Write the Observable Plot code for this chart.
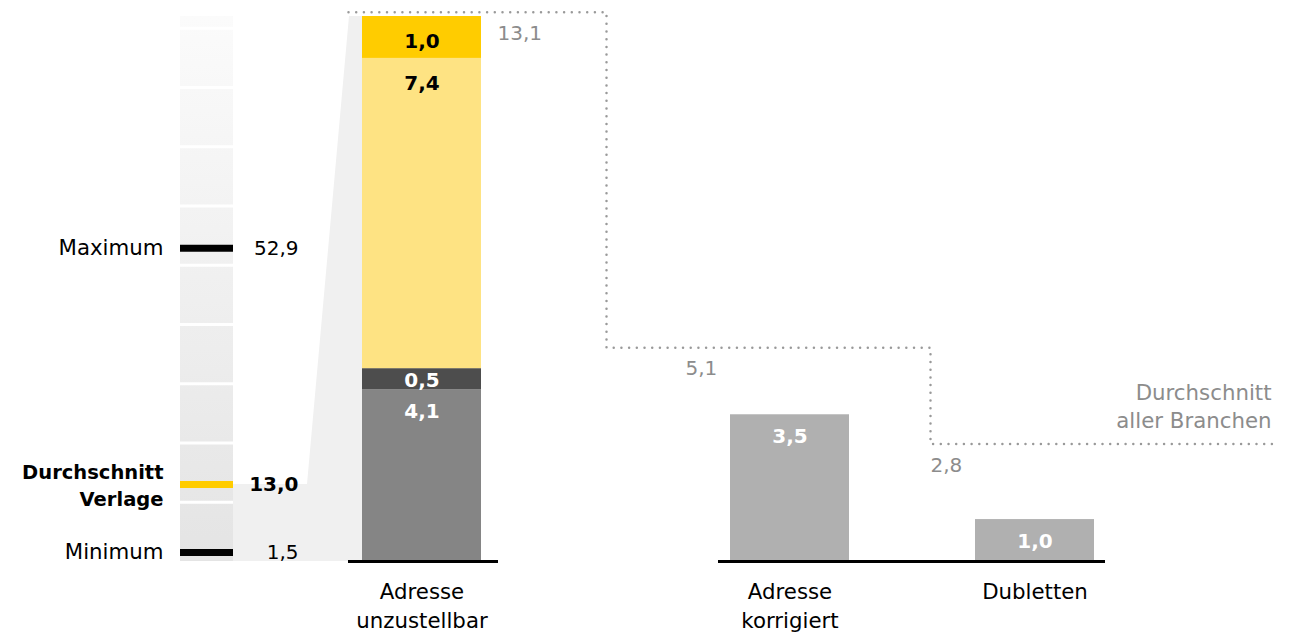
<!DOCTYPE html>
<html>
<head>
<meta charset="utf-8">
<script src="https://cdn.jsdelivr.net/npm/d3@7"></script>
<script src="https://cdn.jsdelivr.net/npm/@observablehq/plot@0.6"></script>
<style>
html, body { margin: 0; padding: 0; background: #fff; }
#chart { position: relative; width: 1301px; height: 633px; }
#chart svg { position: absolute; left: 0; top: 0; }
</style>
</head>
<body>
<div id="chart"></div>
<script>
// ---------- DATA ----------
const leftStatLabels = ["Maximum", "Durchschnitt\nVerlage", "Minimum"];
const leftStatValues = [52.9, 13.0, 1.5];
const leftGridValues = [10, 20, 30, 40, 50, 60, 70, 80, 90];
const leftScaleMax = 92;

const categories = ["Adresse unzustellbar", "Adresse korrigiert", "Dubletten"];
const stackSegments = ["Teil 1", "Teil 2", "Teil 3", "Teil 4"]; // bottom → top
const stackValues = [4.1, 0.5, 7.4, 1.0];
const singleCategories = ["Adresse korrigiert", "Dubletten"];
const singleValues = [3.5, 1.0];
const allBranchAvg = [13.1, 5.1, 2.8];
const allBranchLabel = "Durchschnitt\naller Branchen";

// ---------- LAYOUT / STYLE ----------
const W = 1301, H = 633;
const BASE_Y = 561, TOP_Y = 16;
const FONT = "'DejaVu Sans', sans-serif";
const barLeft = {"Adresse unzustellbar": 362, "Adresse korrigiert": 730, "Dubletten": 975};
const barWidth = 119;
const axisSpans = [[348, 498], [718, 1105]];
const stepX = [348, 606, 930, 1275];
const avgLabelX = [497, 685, 930];
const leftBar = [180, 233];
const connectorX = [233, 307, 349, 362];
const segColors = ["#858585", "#4d4d4d", "#fee383", "#ffcc00"];
const darkTextSegs = new Set(["Teil 3", "Teil 4"]);
const grey = "#8c8c8c";
const WORD = 21.3, NUM = 20, BOLDWORD = 19.5;

const fmt = v => v.toFixed(1).replace(".", ",");

// ---------- LEFT PANEL ----------
const statData = leftStatValues.map((v, i) => ({label: leftStatLabels[i], value: v, avg: i === 1}));
const connectorPts = [
  {x: connectorX[0], y: leftStatValues[1]},
  {x: connectorX[1], y: leftStatValues[1]},
  {x: connectorX[2], y: leftScaleMax},
  {x: connectorX[3], y: leftScaleMax}
];
const gradientDefs = () => {
  const defs = d3.create("svg:defs");
  const g = defs.append("linearGradient").attr("id", "leftGrad")
    .attr("x1", 0).attr("y1", 0).attr("x2", 0).attr("y2", 1);
  g.append("stop").attr("offset", 0).attr("stop-color", "#fbfbfb");
  g.append("stop").attr("offset", 1).attr("stop-color", "#e4e4e4");
  return defs.node();
};

const leftPlot = Plot.plot({
  width: W, height: H, margin: 0,
  x: {domain: [0, W], axis: null},
  y: {domain: [0, leftScaleMax], range: [BASE_Y, TOP_Y], axis: null},
  style: {fontFamily: FONT, fontSize: "20px", background: "#fff", color: "#000"},
  marks: [
    gradientDefs,
    Plot.areaY(connectorPts, {x: "x", y1: 0, y2: "y", fill: "#f0f0f0"}),
    Plot.rectY([0], {x1: leftBar[0], x2: leftBar[1], y1: 0, y2: leftScaleMax, fill: "url(#leftGrad)"}),
    Plot.ruleY(leftGridValues, {x1: leftBar[0], x2: leftBar[1], stroke: "#fff", strokeWidth: 3}),
    Plot.ruleY(statData.filter(d => !d.avg), {y: "value", x1: leftBar[0], x2: leftBar[1], stroke: "#000", strokeWidth: 7}),
    Plot.ruleY(statData.filter(d => d.avg), {y: "value", x1: leftBar[0], x2: leftBar[1], stroke: "#ffcc00", strokeWidth: 7}),
    Plot.text(statData.filter(d => !d.avg), {x: 163, y: "value", text: "label", textAnchor: "end", fill: "#000", fontSize: WORD}),
    Plot.text(statData.filter(d => d.avg), {x: 163, y: "value", text: "label", textAnchor: "end", fill: "#000", fontSize: BOLDWORD, fontWeight: "bold", lineHeight: 1.4, dy: -1}),
    Plot.text(statData.filter(d => !d.avg), {x: 298, y: "value", text: d => fmt(d.value), textAnchor: "end", fill: "#000", fontSize: NUM}),
    Plot.text(statData.filter(d => d.avg), {x: 298, y: "value", text: d => fmt(d.value), textAnchor: "end", fill: "#000", fontSize: NUM, fontWeight: "bold"})
  ]
});

// ---------- MAIN PANEL ----------
const stackData = stackValues.map((v, i) => ({cat: categories[0], seg: stackSegments[i], value: v}));
const singleData = singleValues.map((v, i) => ({cat: singleCategories[i], value: v}));
const avgData = allBranchAvg.map((v, i) => ({x: stepX[i], value: v}));
const avgLine = [...avgData, {x: stepX[3], value: allBranchAvg[allBranchAvg.length - 1]}];

const bx1 = d => barLeft[d.cat];
const bx2 = d => barLeft[d.cat] + barWidth;
const bxc = d => barLeft[d.cat] + barWidth / 2;

const mainPlot = Plot.plot({
  width: W, height: H, margin: 0,
  x: {domain: [0, W], axis: null},
  y: {domain: [0, 13], range: [BASE_Y, TOP_Y], axis: null},
  color: {domain: stackSegments, range: segColors},
  style: {fontFamily: FONT, fontSize: "20px", background: "transparent", color: "#000"},
  marks: [
    Plot.rectY(stackData, Plot.stackY({x1: bx1, x2: bx2, y: "value", fill: "seg", order: null})),
    Plot.rectY(singleData, {x1: bx1, x2: bx2, y: "value", fill: "#b0b0b0"}),
    Plot.ruleY(axisSpans, {y: 0, x1: d => d[0], x2: d => d[1], stroke: "#000", strokeWidth: 3}),
    // stacked labels
    Plot.text(stackData, Plot.stackY2({x: bxc, y: "value", order: null,
      text: d => darkTextSegs.has(d.seg) ? fmt(d.value) : "", dy: 25, fill: "#000", fontWeight: "bold", fontSize: NUM})),
    Plot.text(stackData, Plot.stackY2({x: bxc, y: "value", order: null,
      text: d => (!darkTextSegs.has(d.seg) && d.value >= 1) ? fmt(d.value) : "", dy: 22, fill: "#fff", fontWeight: "bold", fontSize: NUM})),
    Plot.text(stackData, Plot.stackY({x: bxc, y: "value", order: null,
      text: d => (!darkTextSegs.has(d.seg) && d.value < 1) ? fmt(d.value) : "", dy: 1, fill: "#fff", fontWeight: "bold", fontSize: NUM})),
    Plot.text(singleData, {x: bxc, y: "value", text: d => fmt(d.value), dy: 22, fill: "#fff", fontWeight: "bold", fontSize: NUM}),
    // all-branch average
    Plot.line(avgLine, {x: "x", y: "value", curve: "step-after", stroke: "#999", strokeWidth: 2.5,
      strokeDasharray: "0,7.7", strokeLinecap: "round"}),
    Plot.text(avgData, {x: (d, i) => avgLabelX[i], y: "value", dy: 21, text: d => fmt(d.value),
      textAnchor: "start", fill: grey, fontSize: NUM}),
    Plot.text([allBranchLabel], {x: 1271, y: allBranchAvg[allBranchAvg.length - 1], text: d => d,
      textAnchor: "end", lineAnchor: "bottom", dy: -16, lineHeight: 1.3, fill: grey, fontSize: WORD}),
    // category labels
    Plot.text(categories, {x: d => barLeft[d] + barWidth / 2, y: 0, text: d => d.replace(" ", "\n"),
      lineAnchor: "top", dy: 18, lineHeight: 1.32, fill: "#000", fontSize: WORD})
  ]
});

const chart = document.getElementById("chart");
chart.appendChild(leftPlot);
chart.appendChild(mainPlot);
</script>
</body>
</html>
